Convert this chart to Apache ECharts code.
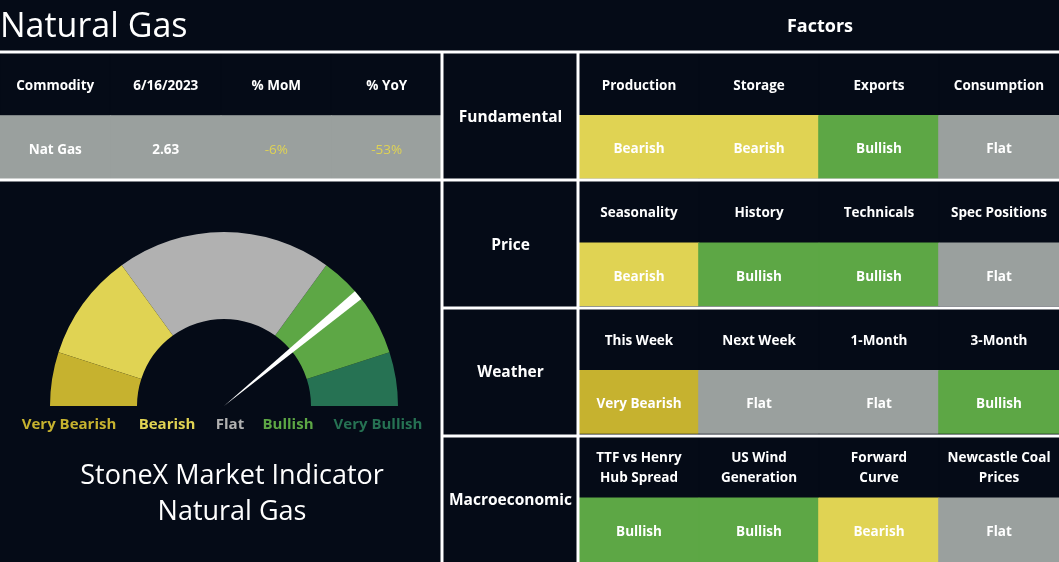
<!DOCTYPE html>
<html>
<head>
<meta charset="utf-8">
<script src="https://cdn.jsdelivr.net/npm/echarts@6/dist/echarts.min.js"></script>
<style>
html,body{margin:0;padding:0;background:#050b17;}
#c{width:1059px;height:562px;}
</style>
</head>
<body>
<div id="c"></div>
<script>
// ---------- data ----------
const pageTitle = 'Natural Gas';
const factorsTitle = 'Factors';
const tableHeaders = ['Commodity', '6/16/2023', '% MoM', '% YoY'];
const commodityName = 'Nat Gas';
const lastPrice = 2.63;
const momPct = -6;
const yoyPct = -53;

const signalLevels = ['Very Bearish', 'Bearish', 'Flat', 'Bullish', 'Very Bullish'];
const gaugeColors = ['#c6b22f', '#e0d353', '#b1b1b1', '#5da745', '#267253'];
const cellColors = ['#c6b22f', '#e0d353', '#9aa09e', '#5da745', '#267253'];
const gaugeBreaks = [0.1, 0.3, 0.7, 0.9, 1.0];
const indicatorValue = 78;

const groups = ['Fundamental', 'Price', 'Weather', 'Macroeconomic'];
const factorNames = [
  ['Production', 'Storage', 'Exports', 'Consumption'],
  ['Seasonality', 'History', 'Technicals', 'Spec Positions'],
  ['This Week', 'Next Week', '1-Month', '3-Month'],
  ['TTF vs Henry\nHub Spread', 'US Wind\nGeneration', 'Forward\nCurve', 'Newcastle Coal\nPrices']
];
const factorSignals = [
  ['Bearish', 'Bearish', 'Bullish', 'Flat'],
  ['Bearish', 'Bullish', 'Bullish', 'Flat'],
  ['Very Bearish', 'Flat', 'Flat', 'Bullish'],
  ['Bullish', 'Bullish', 'Bearish', 'Flat']
];
const indicatorLines = ['StoneX Market Indicator', 'Natural Gas'];

// ---------- styling ----------
const BG = '#050b17';
const FONT = '"Open Sans", Lato, sans-serif';
const W = 1059, H = 562;

function cellStyle(c) { return { color: c, borderColor: c, borderWidth: 1 }; }

// ---------- build series data ----------
const tableData = [];
tableHeaders.forEach((h, i) => {
  tableData.push({ value: [i, 0, 0], name: h, itemStyle: cellStyle(BG), label: { color: '#ffffff' } });
});
const valueTexts = [commodityName, lastPrice.toFixed(2), momPct + '%', yoyPct + '%'];
const valueColors = ['#ffffff', '#ffffff', momPct < 0 ? '#e0d353' : '#5da745', yoyPct < 0 ? '#e0d353' : '#5da745'];
valueTexts.forEach((t, i) => {
  tableData.push({ value: [i, 1, 0], name: t, itemStyle: cellStyle('#9aa09e'), label: { color: valueColors[i], fontWeight: i < 2 ? 'bold' : 'normal' } });
});

const groupData = groups.map((g, i) => ({ value: [0, i, 0], name: g, itemStyle: cellStyle(BG) }));

const rowCats = [];
const factorData = [];
groups.forEach((g, gi) => {
  rowCats.push(g + ' factors', g + ' signals');
  factorNames[gi].forEach((n, c) => {
    factorData.push({ value: [c, gi * 2, 0], name: n, itemStyle: cellStyle(BG) });
  });
  factorSignals[gi].forEach((s, c) => {
    const lvl = signalLevels.indexOf(s);
    factorData.push({ value: [c, gi * 2 + 1, lvl], name: s, itemStyle: cellStyle(cellColors[lvl]) });
  });
});

// ---------- layout ----------
const LINE_Y0 = 52, SPLIT_X1 = 442, SPLIT_X2 = 579;
const hidden = { axisLine: { show: false }, axisTick: { show: false }, axisLabel: { show: false }, splitLine: { show: false } };

function hLine(x1, x2, y) {
  return { type: 'line', z: 100, shape: { x1, y1: y, x2, y2: y }, style: { stroke: '#ffffff', lineWidth: 3 } };
}
function vLine(x, y1, y2) {
  return { type: 'line', z: 100, shape: { x1: x, y1, x2: x, y2 }, style: { stroke: '#ffffff', lineWidth: 3 } };
}

const legendCenters = [69, 167, 230, 288, 378];
const graphics = [
  hLine(0, W, LINE_Y0), hLine(0, W, 180), hLine(SPLIT_X1, W, 308), hLine(SPLIT_X1, W, 436),
  vLine(SPLIT_X1, LINE_Y0, H), vLine(SPLIT_X2 - 1, LINE_Y0, H),
  { type: 'text', x: 820, y: 27, style: { text: factorsTitle, fill: '#fff', font: 'bold 18px ' + FONT, textAlign: 'center', textVerticalAlign: 'middle' } }
];
signalLevels.forEach((s, i) => {
  graphics.push({ type: 'text', x: legendCenters[i], y: 425, style: { text: s, fill: gaugeColors[i], font: 'bold 15px ' + FONT, textAlign: 'center', textVerticalAlign: 'middle' } });
});
indicatorLines.forEach((t, i) => {
  graphics.push({ type: 'text', x: 232, y: 476 + i * 36, style: { text: t, fill: '#fff', font: '27px ' + FONT, textAlign: 'center', textVerticalAlign: 'middle' } });
});

const cellLabel = { show: true, color: '#fff', fontFamily: FONT, fontWeight: 'bold', fontSize: 13.5, lineHeight: 20, offset: [0, 2] };

const chart = echarts.init(document.getElementById('c'), null, { renderer: 'canvas' });
chart.setOption({
  backgroundColor: BG,
  animation: false,
  title: { text: pageTitle, left: 0, top: 10, padding: 0, textStyle: { color: '#fff', fontSize: 34, fontWeight: 'normal', fontFamily: FONT } },
  grid: [
    { left: 0, top: LINE_Y0, width: SPLIT_X1, height: 128 },
    { left: SPLIT_X1, top: LINE_Y0, width: SPLIT_X2 - SPLIT_X1, height: 512 },
    { left: SPLIT_X2, top: LINE_Y0, right: 0, height: 512 }
  ],
  xAxis: [
    Object.assign({ type: 'category', gridIndex: 0, data: tableHeaders }, hidden),
    Object.assign({ type: 'category', gridIndex: 1, data: ['Group'] }, hidden),
    Object.assign({ type: 'category', gridIndex: 2, data: [0, 1, 2, 3] }, hidden)
  ],
  yAxis: [
    Object.assign({ type: 'category', gridIndex: 0, inverse: true, data: ['Header', 'Values'] }, hidden),
    Object.assign({ type: 'category', gridIndex: 1, inverse: true, data: groups }, hidden),
    Object.assign({ type: 'category', gridIndex: 2, inverse: true, data: rowCats }, hidden)
  ],
  series: [
    { type: 'heatmap', xAxisIndex: 0, yAxisIndex: 0, data: tableData, label: Object.assign({}, cellLabel, { formatter: '{b}' }), emphasis: { disabled: true } },
    { type: 'heatmap', xAxisIndex: 1, yAxisIndex: 1, data: groupData, label: Object.assign({}, cellLabel, { fontSize: 15.5, formatter: '{b}' }), emphasis: { disabled: true } },
    { type: 'heatmap', xAxisIndex: 2, yAxisIndex: 2, data: factorData, label: Object.assign({}, cellLabel, { formatter: '{b}' }), emphasis: { disabled: true } },
    {
      type: 'gauge',
      center: [224, 406],
      radius: 174,
      startAngle: 180,
      endAngle: 0,
      min: 0,
      max: 100,
      axisLine: { lineStyle: { width: 87, color: gaugeBreaks.map((b, i) => [b, gaugeColors[i]]) } },
      splitLine: { show: false },
      axisTick: { show: false },
      axisLabel: { show: false },
      anchor: { show: false },
      title: { show: false },
      detail: { show: false },
      pointer: { icon: 'path://M0,0 L10,0 L5,100 Z', length: 174, width: 10, keepAspect: false, itemStyle: { color: '#ffffff' } },
      data: [{ value: indicatorValue }]
    }
  ],
  graphic: graphics
});
</script>
</body>
</html>
